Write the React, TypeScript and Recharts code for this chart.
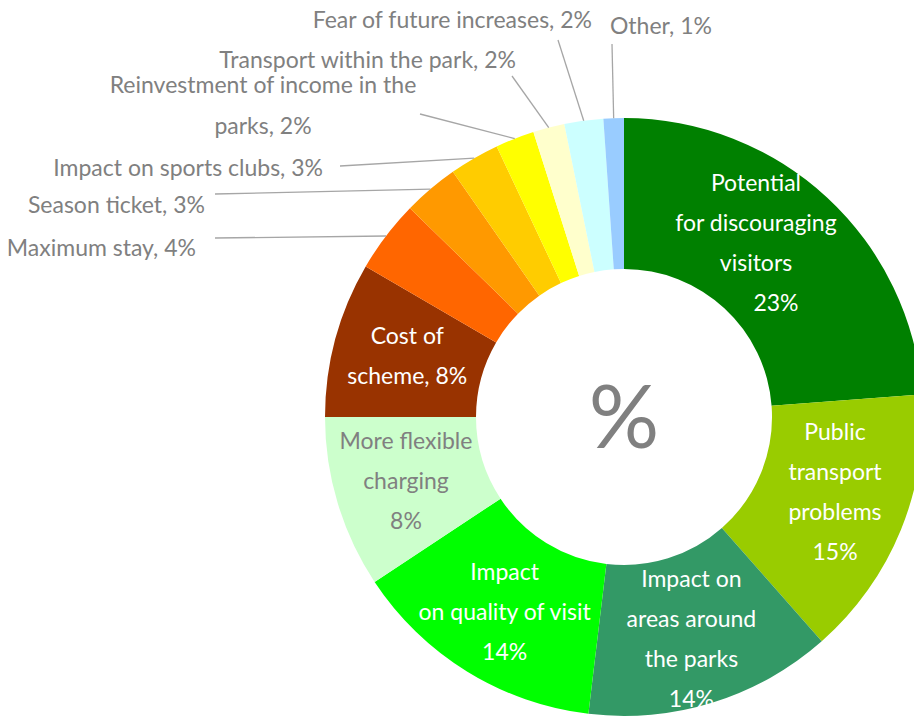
import React from 'react';
import { PieChart, Pie, Cell } from 'recharts';

const categories = [
  'Potential for discouraging visitors',
  'Public transport problems',
  'Impact on areas around the parks',
  'Impact on quality of visit',
  'More flexible charging',
  'Cost of scheme',
  'Maximum stay',
  'Season ticket',
  'Impact on sports clubs',
  'Reinvestment of income in the parks',
  'Transport within the park',
  'Fear of future increases',
  'Other',
];
const shares = [23.8, 14.7, 13.4, 13.8, 9.3, 8.4, 3.9, 3.0, 2.7, 2.1, 1.7, 2.1, 1.1];
const labelLines = [
  ['Potential', 'for discouraging', 'visitors', '23%'],
  ['Public', 'transport', 'problems', '15%'],
  ['Impact on', 'areas around', 'the parks', '14%'],
  ['Impact', 'on quality of visit', '14%'],
  ['More flexible', 'charging', '8%'],
  ['Cost of', 'scheme, 8%'],
  ['Maximum stay, 4%'],
  ['Season ticket, 3%'],
  ['Impact on sports clubs, 3%'],
  ['Reinvestment of income in the', 'parks, 2%'],
  ['Transport within the park, 2%'],
  ['Fear of future increases, 2%'],
  ['Other, 1%'],
];
const colors = [
  '#008000', '#99CC00', '#339966', '#00FF00', '#CCFFCC', '#993300',
  '#FF6600', '#FF9900', '#FFCC00', '#FFFF00', '#FFFFCC', '#CCFFFF', '#99CCFF',
];

const data = categories.map((name, i) => ({ name, value: shares[i] }));

const GREY = '#808080';
const RAD = Math.PI / 180;
const CX = 624;
const CY = 417;
const FS = 23;

// small nudges for the labels inside the ring
const insideNudge: Record<number, [number, number]> = {
  0: [-20, -10],
  1: [4, -9],
  2: [1, 9],
  3: [-2, 5],
  4: [-4, 0],
  5: [-1, -3],
};

// outside label placement (page coords): text anchor point + leader start
const outside: Record<number, { x: number; y: number; anchor: 'start' | 'end' | 'middle'; lx: number; ly: number }> = {
  6: { x: 196, y: 256, anchor: 'end', lx: 215, ly: 238 },
  7: { x: 205, y: 213, anchor: 'end', lx: 215, ly: 194 },
  8: { x: 323, y: 176, anchor: 'end', lx: 340, ly: 166 },
  9: { x: 263, y: 93, anchor: 'middle', lx: 420, ly: 114 },
  10: { x: 516, y: 68, anchor: 'end', lx: 512, ly: 76 },
  11: { x: 592, y: 28, anchor: 'end', lx: 558, ly: 40 },
  12: { x: 610, y: 34, anchor: 'start', lx: 612, ly: 44 },
};

const renderLabel = (props: any) => {
  const { cx, cy, midAngle, innerRadius, outerRadius, index } = props;
  const lines = labelLines[index];
  const o = outside[index];
  if (o) {
    const ex = cx + outerRadius * Math.cos(-midAngle * RAD);
    const ey = cy + outerRadius * Math.sin(-midAngle * RAD);
    return (
      <g key={`l${index}`}>
        <line x1={o.lx} y1={o.ly} x2={ex} y2={ey} stroke="#A6A6A6" strokeWidth={1.3} />
        {lines.map((t, k) => (
          <text key={k} x={o.x} y={o.y + k * 41} textAnchor={o.anchor} fill={GREY} fontSize={FS}>
            {t}
          </text>
        ))}
      </g>
    );
  }
  const r = (innerRadius + outerRadius) / 2;
  const [nx, ny] = insideNudge[index] || [0, 0];
  const x = cx + r * Math.cos(-midAngle * RAD) + nx;
  const y = cy + r * Math.sin(-midAngle * RAD) + ny;
  const top = y - ((lines.length - 1) * 40) / 2;
  return (
    <g key={`l${index}`}>
      {lines.map((t, k) => (
        <text
          key={k}
          x={index === 0 && k === lines.length - 1 ? x + 20 : x}
          y={top + k * 40}
          dy={8}
          textAnchor="middle"
          fill={index === 4 ? GREY : '#FFFFFF'}
          fontSize={FS}
        >
          {t}
        </text>
      ))}
    </g>
  );
};

export default function App() {
  return (
    <div style={{ position: 'absolute', left: 0, top: 0, width: 914, height: 722, background: '#fff', fontFamily: 'Lato, sans-serif' }}>
      <PieChart
        width={914}
        height={722}
        margin={{ top: 0, right: 0, bottom: 0, left: 0 }}
        style={{ fontFamily: 'Lato, sans-serif' }}
      >
        <Pie
          data={data}
          dataKey="value"
          nameKey="name"
          cx={CX}
          cy={CY}
          innerRadius={148}
          outerRadius={299}
          startAngle={90}
          endAngle={-270}
          stroke="none"
          label={renderLabel}
          labelLine={false}
          isAnimationActive={false}
        >
          {data.map((d, i) => (
            <Cell key={d.name} fill={colors[i]} />
          ))}
        </Pie>
        <text x={CX} y={CY + 31} textAnchor="middle" fill={GREY} fontSize={88}>
          %
        </text>
      </PieChart>
    </div>
  );
}
